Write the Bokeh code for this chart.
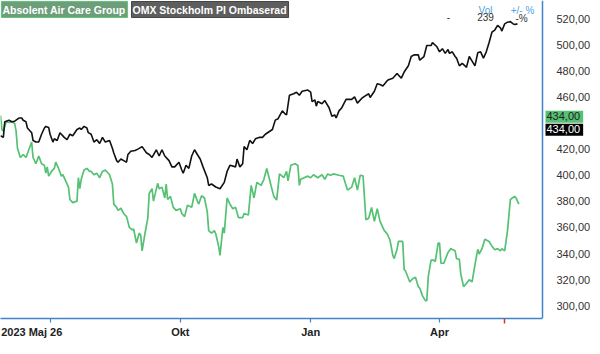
from datetime import date
from bokeh.plotting import figure
from bokeh.models import Range1d, FixedTicker, CustomJSTickFormatter, Label
from bokeh.embed import file_html
from bokeh.resources import INLINE

# ---------------- data ----------------
start_date = date(2023, 5, 26)
window_days = (1, 383.7)  # visible date window, days after start_date

series_names = ["Absolent Air Care Group", "OMX Stockholm PI Ombaserad"]

# OMX Stockholm PI (rebased) – days after start_date and level
omx_day = [1, 3, 4, 7, 9, 11, 14, 16, 17, 19,
           20, 23, 24, 26, 28, 30, 32, 33, 35, 36,
           38, 39, 41, 43, 46, 48, 50, 52, 55, 57,
           58, 60, 62, 63, 65, 67, 69, 71, 73, 75,
           78, 80, 81, 83, 84, 86, 88, 90, 91, 93,
           96, 98, 101, 104, 106, 108, 111, 113, 115, 117,
           120, 122, 124, 127, 129, 130, 132, 134, 136, 138,
           140, 142, 144, 147, 148, 150, 153, 156, 159, 161,
           163, 167, 168, 170, 172, 173, 175, 177, 179, 181,
           184, 186, 188, 193, 195, 197, 200, 202, 203, 205,
           208, 210, 212, 214, 218, 220, 221, 223, 224, 225,
           228, 230, 233, 235, 237, 238, 240, 242, 245, 249,
           251, 253, 256, 258, 261, 262, 265, 267, 269, 271,
           274, 275, 278, 281, 284, 286, 289, 291, 293, 296,
           297, 300, 302, 305, 306, 309, 311, 313, 315, 317,
           318, 320, 322, 323, 325, 327, 329, 330, 332, 334,
           336, 338, 340, 342, 344, 346, 348, 350, 352, 354,
           355, 357, 359, 361, 363, 364, 366]
omx_value = [430.2, 429.0, 440.9, 442.1, 440.9, 441.4, 443.8, 443.8, 442.1, 440.9,
             436.2, 432.6, 426.6, 425.4, 425.4, 431.4, 436.2, 437.4, 436.6, 431.4,
             425.4, 427.9, 426.6, 432.6, 429.0, 427.2, 431.4, 430.2, 435.0, 436.2,
             435.0, 437.4, 436.2, 432.6, 431.4, 425.4, 427.2, 424.3, 429.0, 425.4,
             426.6, 420.7, 417.1, 411.2, 410.0, 412.4, 411.2, 410.0, 415.9, 418.3,
             419.0, 420.0, 421.9, 417.2, 415.9, 413.6, 419.5, 414.7, 419.5, 414.7,
             411.2, 406.4, 406.4, 410.0, 404.0, 401.6, 407.6, 405.2, 414.7, 419.5,
             415.9, 412.4, 406.4, 398.1, 392.2, 393.3, 391.0, 389.7, 394.5, 402.9,
             407.6, 406.4, 412.4, 406.4, 408.8, 421.9, 419.5, 426.7, 424.3, 427.9,
             429.0, 429.0, 431.4, 435.0, 442.2, 443.3, 449.3, 446.9, 446.2, 461.2,
             462.4, 463.6, 461.2, 464.3, 465.2, 463.6, 456.4, 457.6, 452.9, 456.4,
             454.7, 457.2, 451.7, 445.2, 446.2, 443.8, 449.3, 451.7, 458.1, 458.1,
             460.0, 455.2, 458.8, 460.4, 462.4, 459.5, 464.3, 470.0, 469.5, 468.3,
             472.4, 473.1, 474.3, 477.9, 474.3, 479.0, 483.8, 490.9, 492.2, 492.2,
             488.1, 490.9, 499.3, 499.3, 501.6, 498.6, 494.5, 496.9, 493.3, 496.2,
             493.3, 494.5, 490.9, 489.7, 483.8, 485.7, 483.8, 482.6, 490.9, 487.4,
             483.8, 493.8, 494.5, 489.7, 494.5, 501.6, 509.5, 511.2, 514.7, 512.9,
             510.4, 515.9, 517.2, 517.6, 515.9, 515.4, 515.9]

# Absolent Air Care Group – days after start_date and price
aac_day = [1, 2, 3, 5, 7, 9, 11, 12, 13, 15,
           16, 17, 19, 21, 23, 24, 26, 28, 30, 32,
           33, 34, 35, 37, 39, 40, 42, 44, 45, 47,
           49, 50, 52, 55, 56, 57, 58, 60, 62, 64,
           65, 67, 69, 71, 73, 75, 78, 80, 81, 83,
           84, 86, 88, 90, 92, 94, 95, 97, 99, 100,
           101, 103, 105, 106, 108, 109, 112, 113, 115, 117,
           118, 119, 121, 123, 125, 128, 129, 131, 133, 136,
           138, 140, 141, 143, 145, 147, 148, 150, 152, 153,
           155, 156, 158, 159, 161, 163, 165, 167, 169, 172,
           173, 176, 178, 180, 182, 185, 187, 189, 192, 194,
           196, 198, 201, 203, 204, 206, 209, 211, 212, 213,
           218, 220, 222, 225, 228, 230, 232, 234, 236, 240,
           243, 246, 249, 251, 253, 255, 257, 259, 261, 263,
           265, 267, 269, 272, 274, 276, 278, 279, 281, 282,
           285, 286, 287, 290, 292, 294, 296, 297, 299, 301,
           302, 303, 305, 307, 308, 310, 311, 312, 314, 317,
           319, 322, 323, 325, 326, 328, 330, 332, 334, 336,
           338, 339, 341, 343, 346, 348, 350, 352, 354, 355,
           357, 359, 361, 364, 365, 367]
aac_value = [445.7, 435.0, 433.8, 440.9, 440.4, 440.9, 439.7, 433.8, 420.7, 413.6,
             414.7, 415.9, 413.6, 419.5, 425.4, 413.6, 408.8, 414.7, 408.8, 407.6,
             401.6, 406.4, 399.3, 402.9, 405.2, 410.0, 405.2, 399.3, 400.4, 395.7,
             390.9, 381.4, 379.0, 380.2, 398.1, 389.7, 396.9, 404.0, 405.2, 402.9,
             402.9, 400.4, 401.6, 398.1, 402.9, 404.0, 400.4, 393.3, 377.9, 375.4,
             373.1, 374.7, 370.7, 368.3, 360.0, 358.1, 358.8, 348.1, 355.7, 354.0,
             342.1, 355.2, 367.1, 386.1, 389.7, 380.2, 393.8, 389.7, 390.9, 382.6,
             393.3, 381.4, 383.8, 375.4, 373.1, 374.3, 370.7, 368.3, 377.1, 375.4,
             386.1, 380.2, 377.9, 384.3, 382.6, 371.9, 357.6, 355.7, 357.6, 355.2,
             345.7, 338.6, 360.0, 355.7, 382.6, 377.9, 374.3, 375.4, 367.6, 367.6,
             370.7, 369.5, 392.2, 382.6, 394.5, 392.2, 396.9, 405.2, 392.2, 383.8,
             381.0, 401.0, 398.1, 402.9, 395.7, 407.6, 408.8, 407.4, 392.2, 396.9,
             399.3, 398.1, 400.4, 398.1, 400.4, 396.9, 401.0, 400.0, 401.0, 400.0,
             399.3, 388.6, 390.9, 398.1, 388.6, 400.0, 399.5, 365.9, 367.1, 375.4,
             364.7, 374.3, 364.7, 357.6, 355.2, 350.4, 338.6, 336.2, 343.3, 349.3,
             349.3, 327.9, 326.7, 318.3, 320.7, 321.9, 314.7, 313.6, 307.6, 304.0,
             304.0, 321.9, 335.0, 335.0, 333.8, 348.1, 348.1, 332.6, 332.6, 340.9,
             343.8, 342.1, 336.2, 335.7, 324.3, 314.7, 317.1, 320.0, 318.3, 331.4,
             343.3, 339.7, 343.8, 350.9, 349.3, 345.7, 342.9, 343.8, 342.1, 343.8,
             342.1, 357.6, 381.4, 383.8, 382.6, 377.9]

x_tick_dates = [date(2023, 7, 1), date(2023, 10, 1), date(2024, 1, 1), date(2024, 4, 1)]
start_label = "2023 Maj 26"
x_tick_labels = [start_label, "Okt", "Jan", "Apr"]
marker_date = date(2024, 5, 17)

y_ticks = [300, 320, 340, 360, 380, 400, 420, 460, 480, 500, 520]
y_min, y_max = 290.3, 533.8

last_price = 434.0
last_price_text = "434,00"
header_labels = ["Vol", "+/- %"]
header_values = ["-", "239", "-%"]

# ---------------- styling / layout ----------------
FONT = "Liberation Sans"
GREEN = "#55c172"
BLACK = "#111111"
BLUE = "#3f84c6"
FW, FH = 584, 318          # frame (data area + right label column)
DATA_W = 542               # pixel width of the date window inside the frame
x_end = window_days[0] + (window_days[1] - window_days[0]) * FW / DATA_W

def days(d):
    return (d - start_date).days

tick_days = [days(d) for d in x_tick_dates]

p = figure(frame_width=FW, frame_height=FH, output_backend="svg", toolbar_location=None,
           x_range=Range1d(window_days[0], x_end), y_range=Range1d(y_min, y_max),
           y_axis_location="right", min_border_left=0, min_border_top=0,
           min_border_right=0, min_border_bottom=0)
p.outline_line_color = None
p.xgrid.visible = False
p.ygrid.visible = False
p.background_fill_color = "white"
p.border_fill_color = "white"

# right value axis: labels drawn back into the label column of the frame
yax = p.yaxis[0]
yax.ticker = FixedTicker(ticks=y_ticks)
yax.formatter = CustomJSTickFormatter(code="return tick.toFixed(2).replace('.', ',');")
yax.axis_line_color = None
yax.major_tick_line_color = None
yax.minor_tick_line_color = None
yax.major_label_text_font = FONT
yax.major_label_text_font_size = "11px"
yax.major_label_text_color = "#333333"
yax.major_label_standoff = -(FW - DATA_W) + 8

# border line at the end of the date window
p.vspan(x=[window_days[1]], line_color=BLUE, line_width=1.5)

# date axis
pad = "\u00a0" * 12
xax = p.xaxis[0]
xax.bounds = window_days
xax.ticker = FixedTicker(ticks=tick_days, minor_ticks=[days(marker_date)])
xax.major_label_overrides = {d: (lab + pad if i == 0 else lab)
                             for i, (d, lab) in enumerate(zip(tick_days, x_tick_labels))}
xax.axis_line_color = BLUE
xax.axis_line_width = 1.5
xax.major_tick_line_color = BLUE
xax.major_tick_line_width = 1.2
xax.major_tick_in = 0
xax.major_tick_out = 4
xax.minor_tick_line_color = "#e03030"
xax.minor_tick_line_width = 1.5
xax.minor_tick_in = 0
xax.minor_tick_out = 5
xax.major_label_text_font = FONT
xax.major_label_text_font_size = "11px"
xax.major_label_text_font_style = "bold"
xax.major_label_text_color = "#222222"
xax.major_label_standoff = 2

p.line(aac_day, aac_value, line_color=GREEN, line_width=1.7)
p.line(omx_day, omx_value, line_color=BLACK, line_width=1.6)

# legend boxes
p.add_layout(Label(x=1, y=FH - 1, x_units="screen", y_units="screen", text=series_names[0],
                   text_font=FONT, text_font_style="bold", text_font_size="10.5px",
                   text_color="white", text_baseline="top", text_align="left",
                   background_fill_color="#6b9e79", border_line_color="#4cc06a",
                   border_line_width=0.8, padding=(1, 2, 2, 2)))
p.add_layout(Label(x=131, y=FH - 1, x_units="screen", y_units="screen", text=series_names[1],
                   text_font=FONT, text_font_style="bold", text_font_size="10.5px",
                   text_color="white", text_baseline="top", text_align="left",
                   background_fill_color="#5e5e5e", border_line_color="#2a2a2a",
                   border_line_width=0.8, padding=(1, 2, 2, 2)))

# header at top right
for txt, xc in zip(header_labels, [485, 522]):
    p.add_layout(Label(x=xc, y=FH - 4, x_units="screen", y_units="screen", text=txt,
                       text_font=FONT, text_font_size="10px", text_color="#4fa6e0",
                       text_baseline="top", text_align="center"))
for txt, xc in zip(header_values, [448, 485, 521]):
    p.add_layout(Label(x=xc, y=FH - 12, x_units="screen", y_units="screen", text=txt,
                       text_font=FONT, text_font_size="10px", text_color="#333333",
                       text_baseline="top", text_align="center"))

# last price tags on the right
p.add_layout(Label(x=DATA_W + 3, y=last_price, x_units="screen", y_offset=14, text=last_price_text,
                   text_font=FONT, text_font_size="11px", text_color="#222222",
                   text_baseline="middle", text_align="left",
                   background_fill_color=GREEN, padding=(1, 3, 1, 3)))
p.add_layout(Label(x=DATA_W + 3, y=last_price, x_units="screen", y_offset=1, text=last_price_text,
                   text_font=FONT, text_font_size="11px", text_color="white",
                   text_baseline="middle", text_align="left",
                   background_fill_color="black", padding=(1, 3, 1, 3)))

open("out.html", "w").write(file_html(p, INLINE))
